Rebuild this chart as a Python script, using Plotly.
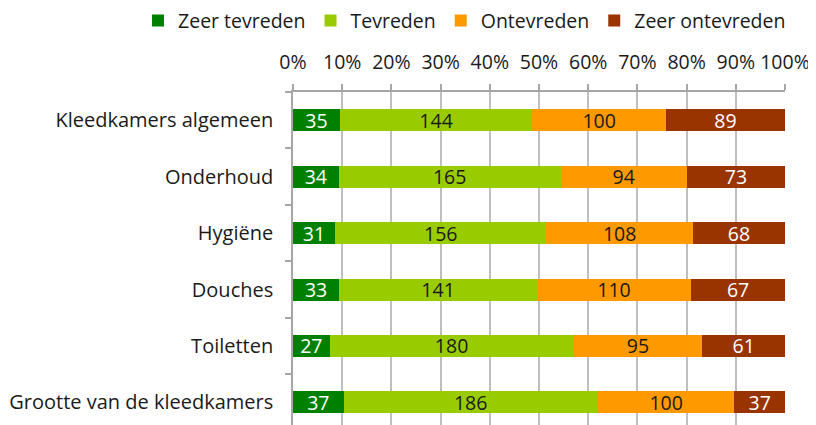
import plotly.graph_objects as go

categories = ["Kleedkamers algemeen", "Onderhoud", "Hygiëne", "Douches", "Toiletten", "Grootte van de kleedkamers"]
series_names = ["Zeer tevreden", "Tevreden", "Ontevreden", "Zeer ontevreden"]
zeer_tevreden = [35, 34, 31, 33, 27, 37]
tevreden = [144, 165, 156, 141, 180, 186]
ontevreden = [100, 94, 108, 110, 95, 100]
zeer_ontevreden = [89, 73, 68, 67, 61, 37]
tick_vals = [0, 10, 20, 30, 40, 50, 60, 70, 80, 90, 100]
tick_labels = ["0%", "10%", "20%", "30%", "40%", "50%", "60%", "70%", "80%", "90%", "100%"]

colors = ["#008000", "#99CC00", "#FF9900", "#993300"]
text_colors = ["white", "#1a1a1a", "#1a1a1a", "white"]
FONT = "Open Sans"

fig = go.Figure()
for name, vals, col, tcol in zip(series_names, [zeer_tevreden, tevreden, ontevreden, zeer_ontevreden], colors, text_colors):
    fig.add_trace(go.Bar(
        y=categories, x=vals, name=name, orientation="h",
        marker=dict(color=col, line=dict(width=0)),
        text=[str(v) for v in vals], textposition="inside", insidetextanchor="middle",
        textangle=0, constraintext="none",
        textfont=dict(color=tcol, size=19.5, family=FONT),
    ))

# page body has an 8px default margin, so the figure is 8px smaller and offsets shifted
fig.update_layout(
    barmode="stack", barnorm="percent", bargap=0.61,
    width=808, height=417,
    margin=dict(l=285, r=31, t=84, b=0, autoexpand=False),
    plot_bgcolor="white", paper_bgcolor="white",
    font=dict(family=FONT, size=20, color="#1a1a1a"),
    legend=dict(orientation="h", x=-0.315, xanchor="left",
                y=1.272, yanchor="top",
                font=dict(size=19.5, family=FONT), traceorder="normal",
                itemwidth=30, tracegroupgap=0),
    showlegend=True,
)
fig.update_xaxes(side="top", range=[0, 100], tickvals=tick_vals, ticktext=tick_labels,
                 showgrid=True, gridcolor="#BFBFBF", gridwidth=1.5,
                 showline=True, linecolor="#A6A6A6", linewidth=1.5,
                 ticks="outside", ticklen=6, tickcolor="#A6A6A6", tickwidth=1.5,
                 ticklabelstandoff=7, tickfont=dict(size=19.5), zeroline=False,
                 automargin=False)
fig.update_yaxes(type="category", categoryorder="array", categoryarray=categories,
                 range=[5.4, -0.5], showline=True, linecolor="#A6A6A6", linewidth=1.5,
                 ticks="outside", tickson="boundaries", ticklen=6, tickcolor="#A6A6A6",
                 tickwidth=1.5, ticklabelstandoff=14, tickfont=dict(size=20), showgrid=False,
                 automargin=False)

fig.write_html("out.html")
